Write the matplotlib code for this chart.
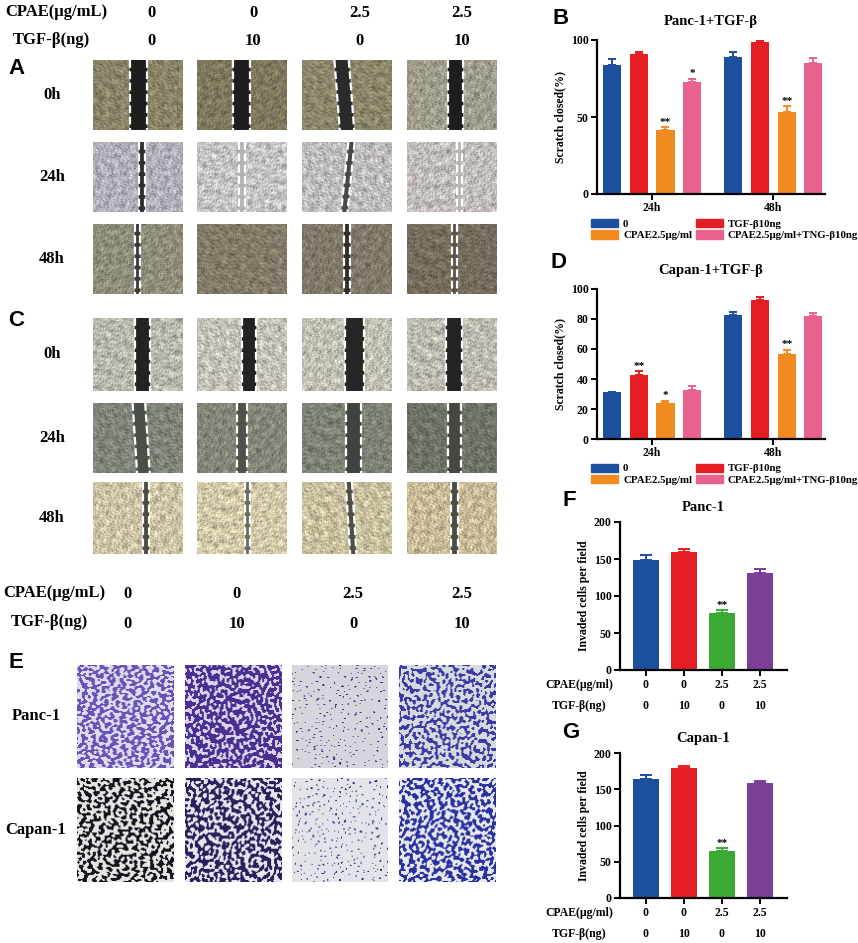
import numpy as np
import matplotlib.pyplot as plt
import matplotlib.transforms as mtransforms
from matplotlib.patches import Patch, Polygon

W, H = 858, 943
SERIF = 'Liberation Serif'
SANS = 'Liberation Sans'

# ---- data ----
groups = ['24h', '48h']
bd_labels = ['0', 'TGF-β10ng', 'CPAE2.5μg/ml', 'CPAE2.5μg/ml+TNG-β10ng']
bd_colors = ['#1d4f9f', '#e41e23', '#f28a22', '#e9628e']

panc_scratch = [[84, 91, 41.5, 72.5], [89, 99, 53.5, 85]]
panc_scratch_err = [[3.5, 1.0, 2.0, 2.5], [3.5, 0.5, 3.5, 3.0]]
panc_scratch_stars = [['', '', '**', '*'], ['', '', '**', '']]

capan_scratch = [[31, 42.5, 24.2, 32.5], [82.5, 92.7, 56.8, 82.2]]
capan_scratch_err = [[0.6, 2.6, 1.4, 2.5], [2.0, 2.0, 2.8, 1.8]]
capan_scratch_stars = [['', '**', '*', ''], ['', '', '**', '']]

cpae = ['0', '0', '2.5', '2.5']
tgf = ['0', '10', '0', '10']
inv_colors = ['#1d4f9f', '#e41e23', '#3aaa35', '#7b3f98']
panc_inv = [148, 160, 77, 131]
panc_inv_err = [7.5, 3.0, 3.5, 6.0]
panc_inv_stars = ['', '', '**', '']
capan_inv = [164, 179.5, 65, 158]
capan_inv_err = [5.5, 2.5, 3.5, 3.5]
capan_inv_stars = ['', '', '**', '']

time_rows = ['0h', '24h', '48h']
# scratch micrographs: background tone, gap colour, gap centre (top, bottom) and width
a_bg = [['#8a8468', '#7e795d', '#8b876a', '#a19d8b'],
        ['#b2afb9', '#c6c3c6', '#bfbcbe', '#c2bdba'],
        ['#918d7d', '#827c68', '#7f7a6a', '#756d5e']]
a_gap = [['#1e1e1e', '#1e1e1e', '#2a2a2a', '#1e1e1e'],
         ['#2c302c', '#b5b2b6', '#454a45', '#b9b4b2'],
         ['#3a3a35', None, '#2e2e2a', '#5a5248']]
a_pos = [[(0.51, 0.51), (0.49, 0.49), (0.44, 0.50), (0.54, 0.54)],
         [(0.54, 0.54), (0.50, 0.50), (0.55, 0.47), (0.58, 0.58)],
         [(0.49, 0.49), (0.5, 0.5), (0.50, 0.50), (0.53, 0.53)]]
a_w = [[0.19, 0.19, 0.16, 0.17], [0.065, 0.06, 0.07, 0.06], [0.055, 0.0, 0.07, 0.06]]

c_bg = [['#b9b8ae', '#c4c2b8', '#c2c0b4', '#bdbbb0'],
        ['#7f857a', '#838679', '#7e8377', '#6f746a'],
        ['#cdc4a6', '#d3c9a9', '#c9c09f', '#c9bb98']]
c_gap = [['#232323', '#232323', '#262626', '#232323'],
         ['#4a4f48', '#4e524a', '#3e433e', '#444841'],
         ['#4a4a44', '#6b6b62', '#4f4f46', '#4d4b43']]
c_pos = [[(0.55, 0.55), (0.58, 0.58), (0.58, 0.58), (0.52, 0.52)],
         [(0.51, 0.56), (0.50, 0.50), (0.57, 0.57), (0.53, 0.53)],
         [(0.59, 0.59), (0.56, 0.56), (0.52, 0.57), (0.53, 0.53)]]
c_w = [[0.17, 0.16, 0.21, 0.18], [0.14, 0.12, 0.16, 0.14], [0.06, 0.06, 0.07, 0.08]]

lines_e = ['Panc-1', 'Capan-1']
e_stain = [['#6a52b8', '#4a2f92', '#3e3088', '#3b3ca6'],
           ['#14141e', '#2a1f5a', '#2e2e7a', '#2a30a0']]
e_bg = [['#dcdcee', '#d8d4ea', '#d7d4dc', '#d6dade'],
        ['#e4e6e2', '#e8e4ee', '#e2e4e8', '#e6e8ee']]
e_level = [[0.0, -0.3, 1.75, 0.25], [0.15, -0.05, 1.65, 0.05]]


def box(x0, y0, x1, y1):
    return [x0 / W, 1 - y1 / H, (x1 - x0) / W, (y1 - y0) / H]


def ftext(x, y, s, **kw):
    kw.setdefault('family', SERIF)
    kw.setdefault('weight', 'bold')
    fig.text(x / W, 1 - y / H, s, **kw)


def hex_rgb(c):
    c = c.lstrip('#')
    return np.array([int(c[i:i + 2], 16) for i in (0, 2, 4)]) / 255.0


def texture(k, ny, nx, freq):
    # isotropic texture from many plane waves at golden-angle directions
    yy, xx = np.mgrid[0:ny, 0:nx].astype(float)
    out = np.zeros((ny, nx))
    n = 32
    for j in range(n):
        ang = j * 2.39996 + k
        f = freq * (0.5 + 1.0 * ((j * 0.618034) % 1.0))
        out += np.cos(f * (np.cos(ang) * xx + np.sin(ang) * yy) + j * 1.7 + 3.1 * k)
    return out / np.sqrt(n / 2.0)


def scratch(rect, bg, gap, pos, w, k):
    ax = fig.add_axes(box(*rect))
    tex = texture(k, 140, 180, 1.3) + 0.6 * texture(k + 0.4, 140, 180, 0.35)
    img = np.clip(hex_rgb(bg)[None, None, :] * (1 + 0.11 * tex[:, :, None]), 0, 1)
    ax.imshow(img, extent=(0, 1, 0, 1), aspect='auto', interpolation='antialiased')
    if w > 0:
        top, bot = pos
        if gap is not None:
            ax.add_patch(Polygon([(top - w / 2, 1), (top + w / 2, 1),
                                  (bot + w / 2, 0), (bot - w / 2, 0)],
                                 closed=True, color=gap, lw=0))
        for s in (-1, 1):
            ax.plot([top + s * w / 2, bot + s * w / 2], [1, 0], color='white',
                    lw=1.6, ls=(0, (3.5, 1.6)))
    ax.set_xlim(0, 1)
    ax.set_ylim(0, 1)
    ax.axis('off')


def stain(rect, col, bg, level, k):
    ax = fig.add_axes(box(*rect))
    freq = 1.5 if level > 1 else 1.0
    tex = texture(k, 104, 98, freq)
    mask = (tex > level).astype(float)
    img = hex_rgb(bg)[None, None, :] * (1 - mask[:, :, None]) + hex_rgb(col)[None, None, :] * mask[:, :, None]
    ax.imshow(img, extent=(0, 1, 0, 1), aspect='auto', interpolation='bilinear')
    ax.axis('off')


def style_axes(ax):
    for s in ('top', 'right'):
        ax.spines[s].set_visible(False)
    for s in ('left', 'bottom'):
        ax.spines[s].set_linewidth(1.6)
    ax.tick_params(width=1.4, length=4, labelsize=8.5, pad=2)
    for t in ax.get_yticklabels() + ax.get_xticklabels():
        t.set_family(SERIF)
        t.set_weight('bold')


def grouped_panel(rect, vals, errs, stars, yticks, title):
    ax = fig.add_axes(box(*rect))
    offs = [-0.33, -0.11, 0.11, 0.33]
    for gi in range(len(groups)):
        for si in range(4):
            x = gi + offs[si]
            ax.bar(x, vals[gi][si], width=0.15, color=bd_colors[si])
            ax.errorbar(x, vals[gi][si], yerr=[[0], [errs[gi][si]]], fmt='none',
                        ecolor=bd_colors[si], capsize=3, elinewidth=1.4, capthick=1.4)
            if stars[gi][si]:
                ax.text(x, vals[gi][si] + errs[gi][si] + 0.3, stars[gi][si], ha='center',
                        va='bottom', fontsize=8, weight='bold', family=SERIF)
    ax.set_xlim(-0.455, 1.426)
    ax.set_ylim(0, yticks[-1])
    ax.set_yticks(yticks)
    ax.set_xticks(range(len(groups)))
    ax.set_xticklabels(groups)
    ax.set_ylabel('Scratch closed(%)', family=SERIF, weight='bold', fontsize=8.5, labelpad=3)
    ax.set_title(title, family=SERIF, weight='bold', fontsize=10.5, pad=11)
    style_axes(ax)
    handles = [Patch(color=bd_colors[i]) for i in (0, 2, 1, 3)]
    labels = [bd_labels[i] for i in (0, 2, 1, 3)]
    ax.legend(handles, labels, ncol=2, loc='upper left', frameon=False,
              bbox_to_anchor=(-0.045, -0.135), handlelength=2.5, handleheight=0.8,
              columnspacing=0.35, handletextpad=0.45, labelspacing=0.12, borderaxespad=0,
              prop={'family': SERIF, 'weight': 'bold', 'size': 7.8})
    return ax


def invade_panel(rect, vals, errs, stars, title):
    ax = fig.add_axes(box(*rect))
    x = np.arange(len(vals))
    ax.bar(x, vals, width=0.68, color=inv_colors)
    for i in x:
        ax.errorbar(i, vals[i], yerr=[[0], [errs[i]]], fmt='none', ecolor=inv_colors[i],
                    capsize=4, elinewidth=1.4, capthick=1.4)
        if stars[i]:
            ax.text(i, vals[i] + errs[i] + 1, stars[i], ha='center', va='bottom',
                    fontsize=8, weight='bold', family=SERIF)
    ax.set_xlim(-0.67, 3.71)
    ax.set_ylim(0, 200)
    ax.set_yticks([0, 50, 100, 150, 200])
    ax.set_xticks(x)
    ax.set_xticklabels([])
    ax.set_ylabel('Invaded cells per field', family=SERIF, weight='bold', fontsize=8.5, labelpad=3)
    ax.set_title(title, family=SERIF, weight='bold', fontsize=10.5, pad=8)
    style_axes(ax)
    tr = mtransforms.blended_transform_factory(ax.transData, fig.transFigure)
    y1 = rect[3] + 15
    y2 = rect[3] + 36
    for i in x:
        ax.text(i, 1 - y1 / H, cpae[i], transform=tr, ha='center', va='center',
                fontsize=8.5, weight='bold', family=SERIF)
        ax.text(i, 1 - y2 / H, tgf[i], transform=tr, ha='center', va='center',
                fontsize=8.5, weight='bold', family=SERIF)
    ftext(579, y1, 'CPAE(μg/ml)', fontsize=8.5, ha='center', va='center')
    ftext(579, y2, 'TGF-β(ng)', fontsize=8.5, ha='center', va='center')
    return ax


fig = plt.figure(figsize=(W / 100, H / 100), dpi=100)

# ---- panels A and C: scratch assay ----
top_x = [152, 253, 360, 462]
ftext(5, 12, 'CPAE(μg/mL)', fontsize=12, va='center')
ftext(13, 40, 'TGF-β(ng)', fontsize=12, va='center')
for i in range(4):
    ftext(top_x[i], 13, cpae[i], fontsize=12, ha='center', va='center')
    ftext(top_x[i], 41, tgf[i], fontsize=12, ha='center', va='center')

cols_a = [(93, 183), (197, 287), (302, 392), (407, 497)]
rows_a = [(60, 130), (142, 212), (224, 294)]
rows_c = [(318, 391), (403, 473), (482, 554)]
ftext(8, 68, 'A', family=SANS, fontsize=16, va='center')
ftext(8, 320, 'C', family=SANS, fontsize=16, va='center')
for r in range(3):
    ftext(52, (rows_a[r][0] + rows_a[r][1]) / 2, time_rows[r], fontsize=12, ha='center', va='center')
    ftext(52, (rows_c[r][0] + rows_c[r][1]) / 2, time_rows[r], fontsize=12, ha='center', va='center')
    for c in range(4):
        scratch((cols_a[c][0], rows_a[r][0], cols_a[c][1], rows_a[r][1]),
                a_bg[r][c], a_gap[r][c], a_pos[r][c], a_w[r][c], 0.7 * r + 1.3 * c)
        scratch((cols_a[c][0], rows_c[r][0], cols_a[c][1], rows_c[r][1]),
                c_bg[r][c], c_gap[r][c], c_pos[r][c], c_w[r][c], 2.1 + 0.9 * r + 1.1 * c)

bot_x = [128, 237, 353, 462]
ftext(3, 593, 'CPAE(μg/mL)', fontsize=12, va='center')
ftext(11, 622, 'TGF-β(ng)', fontsize=12, va='center')
for i in range(4):
    ftext(bot_x[i], 594, cpae[i], fontsize=12, ha='center', va='center')
    ftext(bot_x[i], 624, tgf[i], fontsize=12, ha='center', va='center')

# ---- panel E: transwell ----
cols_e = [(77, 174), (185, 282), (292, 388), (399, 496)]
rows_e = [(665, 768), (778, 882)]
ftext(8, 663, 'E', family=SANS, fontsize=16, va='center')
for r in range(2):
    ftext(36, (rows_e[r][0] + rows_e[r][1]) / 2, lines_e[r], fontsize=12, ha='center', va='center')
    for c in range(4):
        stain((cols_e[c][0], rows_e[r][0], cols_e[c][1], rows_e[r][1]),
              e_stain[r][c], e_bg[r][c], e_level[r][c], 0.8 + 1.7 * c + 0.5 * r)

# ---- bar charts ----
ftext(553, 18, 'B', family=SANS, fontsize=16, va='center')
grouped_panel((597, 40, 825, 194), panc_scratch, panc_scratch_err, panc_scratch_stars,
              [0, 50, 100], 'Panc-1+TGF-β')
ftext(550, 262, 'D', family=SANS, fontsize=16, va='center')
grouped_panel((597, 289, 825, 439), capan_scratch, capan_scratch_err, capan_scratch_stars,
              [0, 20, 40, 60, 80, 100], 'Capan-1+TGF-β')
ftext(562, 500, 'F', family=SANS, fontsize=16, va='center')
invade_panel((620, 522, 787, 670), panc_inv, panc_inv_err, panc_inv_stars, 'Panc-1')
ftext(562, 732, 'G', family=SANS, fontsize=16, va='center')
invade_panel((620, 753, 787, 898), capan_inv, capan_inv_err, capan_inv_stars, 'Capan-1')

fig.savefig('out.png', dpi=100)
